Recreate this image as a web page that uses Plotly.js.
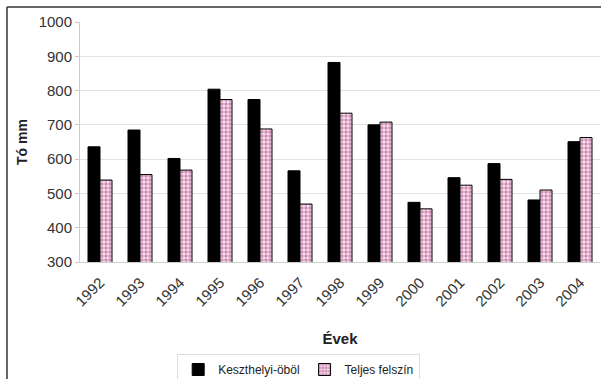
<!DOCTYPE html>
<html>
<head>
<meta charset="utf-8">
<script src="https://cdn.plot.ly/plotly-3.0.1.min.js"></script>
<style>html,body{margin:0;padding:0;background:#fff;}#chart{width:601px;height:379px;}</style>
</head>
<body>
<div id="chart"></div>
<script>
const years = ['1992','1993','1994','1995','1996','1997','1998','1999','2000','2001','2002','2003','2004'];
const keszthelyi = [636, 685, 602, 804, 774, 566, 882, 700, 474, 546, 587, 481, 651];
const teljes = [539, 555, 568, 774, 688, 469, 734, 708, 455, 524, 541, 510, 663];
const seriesNames = ['Keszthelyi-öböl', 'Teljes felszín'];

const traces = [
  {type:'bar', name:seriesNames[0], x:years, y:keszthelyi,
   marker:{color:'#000', line:{color:'#000', width:1}}},
  {type:'bar', name:seriesNames[1], x:years, y:teljes,
   marker:{color:'#f0d0e2', line:{color:'#000', width:1},
     pattern:{shape:'+', fgcolor:'#b04a84', bgcolor:'#f6e2ee', size:4, solidity:0.3}}}
];

const layout = {
  width:601, height:379,
  margin:{l:80, r:1, t:22, b:117},
  paper_bgcolor:'#fff', plot_bgcolor:'#fff',
  font:{family:'Liberation Sans, Arial, sans-serif', color:'#333'},
  barmode:'group', bargap:0.4, bargroupgap:0,
  showlegend:true,
  legend:{orientation:'h', xref:'container', yref:'container', x:0.497, xanchor:'center', y:0.066, yanchor:'top',
    bordercolor:'#ddd', borderwidth:1, font:{size:12, color:'#222'},
    itemwidth:30, tracegroupgap:0},
  xaxis:{type:'category', tickangle:-45, tickfont:{size:15, color:'#333'}, automargin:false,
    showline:true, linecolor:'#ccc', ticks:'', showgrid:false, ticklabelstandoff:5,
    title:{text:'Évek', font:{size:15, color:'#222', weight:'bold'}, standoff:24}},
  yaxis:{range:[300,1000], dtick:100, tickfont:{size:15, color:'#333'}, automargin:false,
    showgrid:true, gridcolor:'#e2e2e2', gridwidth:1,
    showline:true, linecolor:'#ccc', ticks:'outside', ticklen:4, tickcolor:'#ccc',
    zeroline:false,
    title:{text:'Tó mm', font:{size:14, color:'#222', weight:'bold'}, standoff:7}},
  shapes:[
    {type:'line', xref:'paper', yref:'paper', x0:-0.1404, x1:1.1, y0:1.0625, y1:1.0625, line:{color:'#333', width:1.5}},
    {type:'line', xref:'paper', yref:'paper', x0:-0.1404, x1:-0.1404, y0:1.0625, y1:-0.5, line:{color:'#333', width:1.5}}
  ]
};

Plotly.newPlot('chart', traces, layout, {displayModeBar:false, staticPlot:true});
</script>
</body>
</html>
